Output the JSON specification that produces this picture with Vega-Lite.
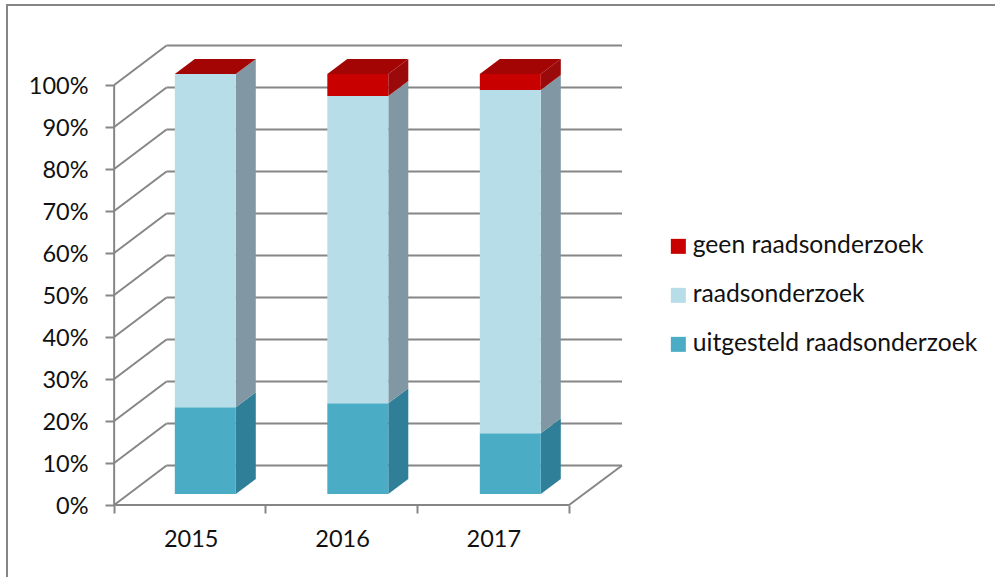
{
"$schema":"https://vega.github.io/schema/vega-lite/v6.json",
"width":1000,"height":580,
"autosize":{"type":"none"},
"padding":{"left":7,"top":5,"right":0,"bottom":0},
"background":"white",
"config":{"view":{"stroke":"#868686","strokeWidth":2},"font":"Lato"},
"datasets":{
"bars":[
{"jaar":2015,"serie":"uitgesteld raadsonderzoek","laag":1,"aandeel":20.7},
{"jaar":2015,"serie":"raadsonderzoek","laag":2,"aandeel":79.3},
{"jaar":2015,"serie":"geen raadsonderzoek","laag":3,"aandeel":0},
{"jaar":2016,"serie":"uitgesteld raadsonderzoek","laag":1,"aandeel":21.6},
{"jaar":2016,"serie":"raadsonderzoek","laag":2,"aandeel":73.2},
{"jaar":2016,"serie":"geen raadsonderzoek","laag":3,"aandeel":5.2},
{"jaar":2017,"serie":"uitgesteld raadsonderzoek","laag":1,"aandeel":14.5},
{"jaar":2017,"serie":"raadsonderzoek","laag":2,"aandeel":81.7},
{"jaar":2017,"serie":"geen raadsonderzoek","laag":3,"aandeel":3.8}],
"grid":[{"niveau":0},{"niveau":10},{"niveau":20},{"niveau":30},{"niveau":40},{"niveau":50},{"niveau":60},{"niveau":70},{"niveau":80},{"niveau":90},{"niveau":100}]
},
"resolve":{"scale":{"color":"independent"},"legend":{"color":"independent"},"axis":{"x":"independent","y":"independent"}},
"layer":[
{"data":{"name":"grid"},
 "transform":[{"calculate":"2014.494","as":"x0"},{"calculate":"2014.84","as":"x1"},{"calculate":"datum.niveau+9.4","as":"yb"}],
 "mark":{"type":"rule","stroke":"#868686","strokeWidth":2},
 "encoding":{
  "x":{"field":"x0","type":"quantitative","scale":{"domain":[2013.786,2020.394],"nice":false,"zero":false},
   "axis":{"values":[2014.494,2015.494,2016.494,2017.5],"labels":false,"domain":false,"grid":false,"title":null,"orient":"bottom","offset":-80,"tickSize":8,"tickColor":"#868686","tickWidth":2}},
  "x2":{"field":"x1"},
  "y":{"field":"niveau","type":"quantitative","scale":{"domain":[-19.05,119.05],"nice":false,"zero":false},
   "axis":{"values":[0,10,20,30,40,50,60,70,80,90,100],"labelExpr":"datum.value+'%'","domain":false,"grid":false,"title":null,"orient":"left","offset":-107,"tickSize":9,"tickColor":"#868686","tickWidth":2,"labelPadding":17,"labelOffset":1.5,"labelFont":"Lato","labelFontSize":23.5,"labelColor":"#111111"}},
  "y2":{"field":"yb"}}},
{"data":{"name":"grid"},
 "transform":[{"calculate":"2014.84","as":"x0"},{"calculate":"2017.85","as":"x1"},{"calculate":"datum.niveau+9.4","as":"yb"}],
 "mark":{"type":"rule","stroke":"#868686","strokeWidth":2},
 "encoding":{"x":{"field":"x0","type":"quantitative","axis":null},"x2":{"field":"x1"},"y":{"field":"yb","type":"quantitative","axis":null}}},
{"data":{"name":"grid"},
 "transform":[{"filter":"datum.niveau===0"},{"calculate":"2014.494","as":"x0"},{"calculate":"2017.5","as":"x1"}],
 "mark":{"type":"rule","stroke":"#868686","strokeWidth":2},
 "encoding":{"x":{"field":"x0","type":"quantitative",
   "axis":{"values":[2015,2016,2017],"format":"d","ticks":false,"domain":false,"grid":false,"title":null,"orient":"bottom","offset":-80,"tickSize":0,"labelPadding":22,"labelFont":"Lato","labelFontSize":23.5,"labelColor":"#111111"}},
  "x2":{"field":"x1"},"y":{"field":"niveau","type":"quantitative","axis":null}}},
{"data":{"name":"grid"},
 "transform":[{"filter":"datum.niveau===0"},{"calculate":"2017.5","as":"x0"},{"calculate":"2017.85","as":"x1"},{"calculate":"datum.niveau+9.4","as":"yb"}],
 "mark":{"type":"rule","stroke":"#868686","strokeWidth":2},
 "encoding":{"x":{"field":"x0","type":"quantitative","axis":null},"x2":{"field":"x1"},"y":{"field":"niveau","type":"quantitative","axis":null},"y2":{"field":"yb"}}},
{"data":{"name":"grid"},
 "transform":[{"aggregate":[{"op":"min","field":"niveau","as":"lo"},{"op":"max","field":"niveau","as":"hi"}]},{"calculate":"2014.494","as":"x0"}],
 "mark":{"type":"rule","stroke":"#868686","strokeWidth":2},
 "encoding":{"x":{"field":"x0","type":"quantitative","axis":null},"y":{"field":"lo","type":"quantitative","axis":null},"y2":{"field":"hi"}}},
{"data":{"name":"bars"},
 "transform":[
  {"stack":"aandeel","groupby":["jaar"],"sort":[{"field":"laag","order":"ascending"}],"as":["lo","hi"]},
  {"calculate":"2014.895+(datum.jaar-2015)*1.0077+0.403","as":"xa"},
  {"calculate":"datum.xa+0.132","as":"xb"},
  {"fold":["xa","xb"],"as":["kant","xpos"]},
  {"calculate":"(datum.kant==='xb'?3.57:0)+datum.lo+2.6","as":"ylo"},
  {"calculate":"(datum.kant==='xb'?3.57:0)+datum.hi+2.6","as":"yhi"}],
 "mark":{"type":"area","line":false},
 "encoding":{"x":{"field":"xpos","type":"quantitative","axis":null},"y":{"field":"ylo","type":"quantitative","axis":null,"stack":null},"y2":{"field":"yhi"},
  "detail":[{"field":"jaar"},{"field":"serie"}],
  "color":{"field":"serie","type":"nominal","legend":null,"scale":{"domain":["geen raadsonderzoek","raadsonderzoek","uitgesteld raadsonderzoek"],"range":["#9A0A0A","#8197A3","#2F7F98"]}}}},
{"data":{"name":"bars"},
 "transform":[
  {"stack":"aandeel","groupby":["jaar"],"sort":[{"field":"laag","order":"ascending"}],"as":["lo","hi"]},
  {"filter":"datum.laag===3"},
  {"calculate":"2014.895+(datum.jaar-2015)*1.0077","as":"xl"},
  {"calculate":"datum.hi+2.6","as":"va"},
  {"calculate":"datum.hi+6.17","as":"vb"},
  {"fold":["va","vb"],"as":["kant","ypos"]},
  {"calculate":"datum.xl+(datum.kant==='vb'?0.132:0)","as":"x0"},
  {"calculate":"datum.x0+0.403","as":"x1"}],
 "mark":{"type":"area","orient":"horizontal"},
 "encoding":{"y":{"field":"ypos","type":"quantitative","axis":null,"stack":null},"x":{"field":"x0","type":"quantitative","axis":null},"x2":{"field":"x1"},
  "detail":{"field":"jaar"},
  "color":{"field":"serie","type":"nominal","legend":null,"scale":{"domain":["geen raadsonderzoek"],"range":["#A30404"]}}}},
{"data":{"name":"bars"},
 "transform":[
  {"stack":"aandeel","groupby":["jaar"],"sort":[{"field":"laag","order":"ascending"}],"as":["lo","hi"]},
  {"calculate":"2014.895+(datum.jaar-2015)*1.0077","as":"xl"},
  {"calculate":"datum.xl+0.403","as":"xr"},
  {"calculate":"datum.lo+2.6","as":"ylo"},
  {"calculate":"datum.hi+2.6","as":"yhi"}],
 "mark":{"type":"rect"},
 "encoding":{"x":{"field":"xl","type":"quantitative","axis":null},"x2":{"field":"xr"},"y":{"field":"ylo","type":"quantitative","axis":null},"y2":{"field":"yhi"},
  "color":{"field":"serie","type":"nominal","scale":{"domain":["geen raadsonderzoek","raadsonderzoek","uitgesteld raadsonderzoek"],"range":["#C80000","#B7DEE8","#4BACC6"]},
   "legend":{"title":null,"orient":"none","legendX":659,"legendY":229,"symbolType":"square","symbolSize":225,"symbolStrokeWidth":0,"labelFont":"Lato","labelFontSize":24.7,"labelColor":"#111111","labelOffset":2,"rowPadding":23,"labelLimit":400}}}}
]
}
